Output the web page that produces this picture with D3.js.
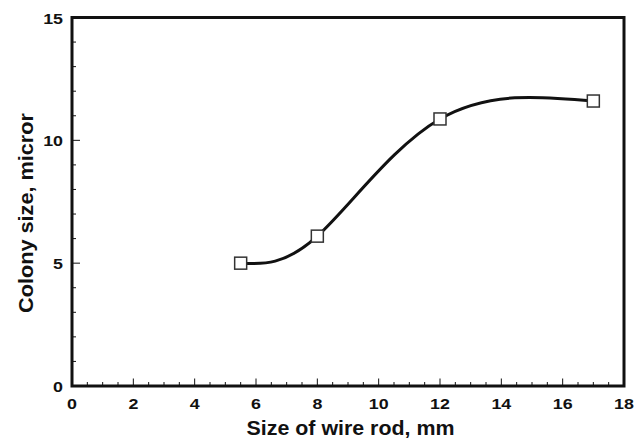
<!DOCTYPE html>
<html><head><meta charset="utf-8">
<script src="https://cdn.jsdelivr.net/npm/d3@7"></script>
<style>body{margin:0;background:#fff}svg{display:block}text{font-family:"Liberation Sans",Arial,sans-serif;font-weight:bold;fill:#111}</style>
</head><body>
<script>
const rodSize = [5.5, 8, 12, 17];
const colonySize = [5.0, 6.1, 10.87, 11.6];
const xTicks = [0, 2, 4, 6, 8, 10, 12, 14, 16, 18];
const yTicks = [0, 5, 10, 15];
const xTitle = "Size of wire rod, mm";
const yTitle = "Colony size, micror";

const W = 644, H = 439;
const m = {l: 72, r: 20, t: 17.5, b: 53};
const svg = d3.select("body").append("svg").attr("width", W).attr("height", H);
const x = d3.scaleLinear().domain([0, 18]).range([m.l, W - m.r]);
const y = d3.scaleLinear().domain([0, 15]).range([H - m.b, m.t]);

// minor ticks
const xMinor = d3.range(0, 18.01, 0.5).filter(v => v % 2 !== 0);
const yMinor = d3.range(0, 15.01, 1).filter(v => v % 5 !== 0);
const g = svg.append("g").attr("stroke", "#111");
g.selectAll(".xm").data(xMinor).join("line")
  .attr("x1", d => x(d)).attr("x2", d => x(d)).attr("y1", y(0)).attr("y2", y(0) - 4).attr("stroke-width", 1);
g.selectAll(".xM").data(xTicks).join("line")
  .attr("x1", d => x(d)).attr("x2", d => x(d)).attr("y1", y(0)).attr("y2", y(0) - 7.5).attr("stroke-width", 1);
g.selectAll(".ym").data(yMinor).join("line")
  .attr("x1", x(0)).attr("x2", x(0) + 4).attr("y1", d => y(d)).attr("y2", d => y(d)).attr("stroke-width", 1);
g.selectAll(".yM").data(yTicks).join("line")
  .attr("x1", x(0)).attr("x2", x(0) + 8).attr("y1", d => y(d)).attr("y2", d => y(d)).attr("stroke-width", 1);

// frame
svg.append("rect").attr("x", x(0)).attr("y", y(15)).attr("width", x(18) - x(0)).attr("height", y(0) - y(15))
  .attr("fill", "none").attr("stroke", "#111").attr("stroke-width", 3);

// tick labels (slightly widened glyphs like the reference)
svg.selectAll(".xl").data(xTicks).join("text")
  .attr("transform", d => `translate(${x(d)},${y(0) + 23}) scale(1.15,1)`)
  .attr("text-anchor", "middle").attr("font-size", 15.5).text(d => d);
svg.selectAll(".yl").data(yTicks).join("text")
  .attr("transform", d => `translate(${x(0) - 9},${y(d) + 6}) scale(1.15,1)`)
  .attr("text-anchor", "end").attr("font-size", 15.5).text(d => d);

// titles
svg.append("text").attr("x", 350.5).attr("y", 435).attr("text-anchor", "middle").attr("font-size", 20)
  .attr("textLength", 208).attr("lengthAdjust", "spacingAndGlyphs").text(xTitle);
svg.append("text").attr("transform", `translate(33,213) rotate(-90)`).attr("text-anchor", "middle").attr("font-size", 20)
  .attr("textLength", 200).attr("lengthAdjust", "spacingAndGlyphs").text(yTitle);

// curve
const pts = rodSize.map((v, i) => [v, colonySize[i]]);
svg.append("path").datum(pts)
  .attr("d", d3.line().x(d => x(d[0])).y(d => y(d[1])).curve(d3.curveNatural))
  .attr("fill", "none").attr("stroke", "#111").attr("stroke-width", 3);

// markers
svg.selectAll(".mk").data(pts).join("rect")
  .attr("x", d => x(d[0]) - 6).attr("y", d => y(d[1]) - 6).attr("width", 12).attr("height", 12)
  .attr("fill", "#fff").attr("stroke", "#333").attr("stroke-width", 1.5);
</script>
</body></html>
